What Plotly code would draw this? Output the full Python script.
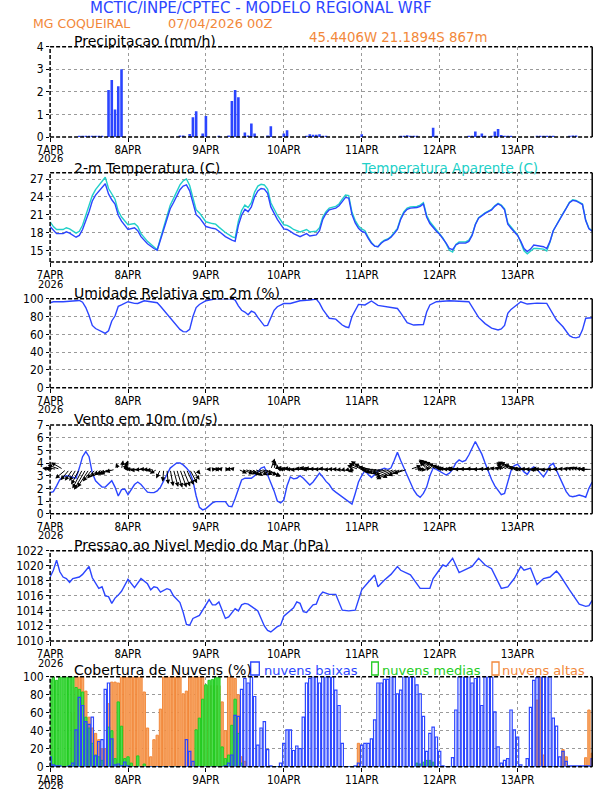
import math
import plotly.graph_objects as go

# ---------------- data ----------------
HOURS = list(range(168))
DAY_TICKS = [0, 24, 48, 72, 96, 120, 144]
DAY_LABELS = ["7APR", "8APR", "9APR", "10APR", "11APR", "12APR", "13APR"]
YEAR_LABEL = "2026"

PRECIP = [0, 0, 0, 0, 0, 0, 0, 0, 0, 0.02,
          0.02, 0.02, 0.02, 0.02, 0.02, 0.02, 0.02, 0, 2.08, 2.52,
          1.22, 2.25, 3.0, 0, 0, 0, 0, 0, 0, 0,
          0, 0, 0, 0, 0, 0, 0, 0, 0, 0,
          0.07, 0.07, 0, 0.13, 0.87, 1.14, 0, 0.16, 0.93, 0,
          0, 0, 0.05, 0, 0, 0.07, 1.6, 2.08, 1.76, 0,
          0.2, 0.07, 0.6, 0.16, 0, 0, 0, 0.07, 0.48, 0,
          0, 0, 0.16, 0.3, 0, 0, 0, 0, 0, 0.05,
          0.12, 0.1, 0.1, 0.12, 0.06, 0.05, 0, 0, 0, 0,
          0, 0, 0, 0, 0, 0, 0.12, 0, 0, 0,
          0, 0, 0, 0, 0, 0, 0, 0, 0.06, 0.06,
          0.08, 0.05, 0.06, 0.05, 0, 0, 0, 0, 0.41, 0.04,
          0, 0, 0, 0, 0, 0, 0, 0, 0, 0.05,
          0.05, 0.24, 0.05, 0.16, 0.05, 0, 0.05, 0.24, 0.35, 0.09,
          0.05, 0.05, 0.03, 0, 0, 0, 0, 0, 0, 0,
          0.02, 0.02, 0.02, 0.02, 0.02, 0.02, 0, 0, 0, 0,
          0.05, 0.07, 0.07, 0, 0, 0, 0, 0]

T_HOURS = [0, 1, 2, 4, 5, 6, 8, 9, 10, 12, 13, 14, 16, 17, 18, 19, 20, 21, 22, 24,
           26, 27, 28, 30, 32, 33, 35, 37, 38, 40, 41, 42, 43, 44, 45, 46, 48, 50, 51, 52,
           54, 56, 57, 58, 59, 60, 61, 62, 63, 64, 65, 66, 67, 68, 70, 72, 73, 74, 75, 77,
           78, 79, 80, 81, 82, 83, 84, 85, 86, 88, 89, 90, 91, 92, 93, 94, 95, 96, 97, 98,
           99, 100, 101, 102, 103, 104, 105, 106, 107, 108, 109, 110, 111, 113, 114, 115, 116, 117, 118, 119,
           120, 121, 122, 123, 124, 125, 126, 128, 129, 130, 131, 132, 134, 136, 137, 138, 139, 140, 141, 142,
           143, 144, 145, 146, 147, 148, 149, 150, 152, 153, 154, 155, 156, 157, 158, 159, 160, 161, 162, 163,
           164, 165, 166, 167]
T2M = [19.0, 18.3, 17.8, 17.8, 18.1, 17.9, 17.2, 17.5, 18.5, 21.5, 23.3, 24.3, 25.7, 26.2, 24.5, 23.5, 22.8, 20.9, 19.9, 18.5,
       18.8, 18.3, 17.3, 16.1, 15.3, 15.0, 18.5, 22.0, 23.0, 25.2, 25.8, 26.0, 25.0, 22.8, 21.0, 20.5, 19.0, 18.7, 18.6, 18.2,
       17.3, 16.7, 16.5, 19.2, 20.9, 21.9, 21.5, 22.3, 24.0, 25.0, 25.4, 25.3, 24.6, 22.3, 20.2, 18.6, 18.5, 18.2, 17.8, 17.3,
       17.6, 17.8, 17.4, 17.5, 17.6, 18.3, 20.2, 21.2, 21.8, 22.1, 22.5, 23.2, 23.9, 23.8, 21.0, 19.6, 18.7, 18.2, 18.0, 17.0,
       16.2, 15.7, 15.6, 16.2, 16.6, 16.8, 17.2, 17.8, 18.5, 20.2, 21.3, 21.9, 22.1, 22.2, 22.4, 22.8, 20.6, 19.5, 18.8, 18.2,
       17.7, 17.0, 16.2, 15.3, 15.1, 15.9, 16.2, 16.2, 16.5, 17.5, 19.3, 20.4, 21.2, 21.8, 22.4, 22.8, 22.5, 21.8, 19.4, 18.7,
       18.0, 17.5, 16.5, 15.3, 14.8, 15.2, 15.9, 15.8, 15.6, 15.3, 16.5, 18.3, 19.2, 20.3, 21.1, 22.0, 23.0, 23.4, 23.3, 23.0,
       22.7, 20.0, 18.6, 18.2]
TAPP = [19.8, 19.0, 18.5, 18.5, 18.8, 18.6, 17.9, 18.2, 19.2, 22.3, 24.2, 25.2, 26.7, 27.3, 25.4, 24.4, 23.6, 21.6, 20.6, 19.3,
        19.5, 19.0, 17.8, 16.5, 15.5, 15.1, 18.9, 22.6, 23.7, 26.0, 26.7, 27.0, 25.9, 23.6, 21.8, 21.3, 19.8, 19.5, 19.4, 18.9,
        18.0, 17.3, 17.1, 19.9, 21.7, 22.6, 22.2, 23.0, 24.8, 25.8, 26.1, 26.0, 25.3, 23.0, 20.9, 19.3, 19.2, 18.9, 18.5, 18.1,
        18.3, 18.5, 18.1, 18.1, 18.2, 18.8, 20.6, 21.5, 22.1, 22.4, 22.8, 23.6, 24.3, 24.2, 21.4, 20.0, 19.1, 18.6, 18.3, 17.2,
        16.3, 15.7, 15.6, 16.3, 16.7, 16.9, 17.3, 18.0, 18.7, 20.4, 21.5, 22.1, 22.3, 22.4, 22.6, 23.0, 20.9, 19.8, 19.1, 18.4,
        17.9, 17.1, 16.1, 15.0, 14.7, 16.0, 16.4, 16.4, 16.7, 17.6, 19.4, 20.5, 21.3, 21.9, 22.5, 22.9, 22.6, 22.0, 19.6, 18.9,
        18.2, 17.6, 16.3, 14.9, 14.4, 14.8, 15.3, 15.3, 15.2, 14.9, 16.4, 18.3, 19.3, 20.4, 21.2, 22.1, 23.1, 23.5, 23.4, 23.1,
        22.8, 20.1, 18.7, 18.3]

RH_HOURS = [0, 1, 4, 8, 9, 10, 11, 12, 13, 14, 15, 16, 17, 18, 19, 20, 21, 22, 24, 26,
            27, 29, 32, 33, 34, 36, 38, 40, 41, 42, 43, 44, 45, 46, 48, 51, 56, 57, 58, 59,
            60, 61, 62, 63, 64, 65, 66, 67, 68, 69, 70, 72, 74, 77, 80, 82, 83, 84, 85, 86,
            88, 89, 90, 91, 92, 93, 94, 95, 97, 99, 101, 104, 107, 108, 109, 110, 112, 115, 116, 117,
            119, 123, 129, 130, 131, 132, 134, 136, 138, 139, 140, 141, 142, 143, 145, 147, 150, 153, 154, 155,
            156, 158, 160, 161, 162, 163, 164, 165, 167]
RH = [95.5, 96.5, 96.6, 97.7, 98.0, 96.0, 90.0, 81.0, 70.0, 66.5, 64.5, 62.5, 61.0, 64.0, 75.0, 80.5, 91.5, 93.0, 96.6, 94.8,
      94.6, 97.7, 96.6, 95.5, 91.5, 83.0, 74.0, 65.5, 63.0, 62.7, 65.5, 80.0, 90.0, 93.5, 97.7, 100.0, 100.0, 98.5, 92.0, 87.0,
      85.0, 82.0, 86.0, 84.5, 79.0, 74.0, 69.5, 70.0, 78.0, 87.0, 91.0, 94.6, 94.6, 97.7, 98.5, 99.6, 95.0, 88.0, 83.0, 78.0,
      77.0, 74.0, 70.4, 68.5, 67.4, 80.0, 87.0, 93.6, 93.0, 97.4, 92.5, 91.0, 89.0, 84.0, 78.0, 73.0, 70.4, 71.0, 85.0, 93.0,
      96.6, 97.7, 96.6, 91.0, 85.0, 79.0, 72.0, 67.0, 64.8, 66.0, 70.0, 83.5, 88.0, 91.0, 96.6, 94.0, 95.0, 94.8, 88.0, 82.0,
      76.0, 68.5, 58.5, 56.5, 56.0, 57.0, 65.0, 78.0, 78.6]

WIND_SPEED = [1.66, 1.74, 2.2, 2.7, 2.9, 3.0, 2.95, 2.9, 2.8, 3.6,
              4.5, 4.9, 4.5, 3.2, 2.6, 2.35, 2.1, 2.1, 2.35, 2.6,
              2.1, 1.4, 1.9, 1.95, 1.5, 1.9, 2.3, 2.5, 2.3, 2.0,
              1.7, 1.66, 1.66, 1.8, 2.1, 2.6, 3.1, 3.6, 3.8, 4.0,
              4.0, 3.85, 3.6, 3.3, 2.6, 1.4, 0.5, 0.3, 0.4, 0.65,
              0.85, 0.95, 0.95, 0.95, 0.95, 0.6, 0.55, 1.2, 2.0, 2.66,
              2.8, 2.8, 2.8, 3.0, 3.3, 3.6, 3.7, 3.1, 2.4, 1.8,
              1.0, 0.85, 1.08, 2.2, 2.9, 2.75, 2.8, 3.0, 2.8, 2.5,
              2.26, 2.5, 2.9, 3.2, 2.9, 2.55, 2.3, 1.9, 1.7, 1.5,
              1.3, 1.1, 0.9, 0.76, 1.6, 2.5, 3.0, 3.4, 3.1, 2.85,
              3.1, 3.4, 3.5, 3.58, 3.5, 3.6, 4.2, 4.84, 4.2, 3.6,
              3.05, 2.4, 1.87, 1.5, 1.29, 1.6, 2.1, 3.0, 3.6, 3.5,
              3.37, 3.2, 3.05, 3.2, 3.5, 4.0, 4.24, 4.1, 4.2, 4.63,
              5.2, 5.7, 5.2, 4.7, 4.0, 3.3, 2.7, 2.2, 1.8, 1.5,
              1.6, 2.6, 3.4, 3.8, 3.9, 3.6, 3.3, 3.1, 3.5, 3.7,
              3.5, 3.2, 2.9, 3.3, 3.8, 3.97, 3.4, 2.8, 2.2, 1.74,
              1.4, 1.34, 1.4, 1.47, 1.4, 1.3, 2.0, 2.5]
# direction the wind blows FROM (degrees, meteorological)
WIND_DIR = [100, 95, 100, 110, 120, 50, 40, 35, 30, 28,
            28, 30, 33, 38, 42, 48, 52, 58, 62, 68,
            75, 160, 190, 200, 150, 110, 95, 90, 85, 88,
            92, 88, 80, 60, 25, 5, 355, 350, 345, 343,
            340, 338, 335, 332, 328, 320, 300, 270, 270, 90,
            260, 270, 90, 100, 270, 80, 90, 100, 295, 292,
            290, 295, 298, 293, 290, 288, 292, 300, 200, 190,
            180, 110, 95, 100, 95, 92, 95, 90, 88, 95,
            100, 92, 90, 95, 92, 90, 95, 88, 92, 90,
            85, 80, 75, 70, 70, 110, 115, 120, 110, 100,
            90, 85, 80, 78, 75, 70, 66, 65, 65, 68,
            72, 250, 265, 270, 275, 260, 140, 128, 125, 122,
            118, 112, 106, 100, 95, 92, 92, 90, 92, 90,
            91, 92, 90, 91, 92, 90, 93, 95, 100, 105,
            110, 113, 115, 115, 112, 105, 95, 92, 90, 90,
            92, 90, 88, 90, 92, 90, 88, 90, 92, 95,
            100, 105, 108, 105, 100, 95, 90, 90]

P_HOURS = [0, 1, 2, 3, 4, 5, 6, 7, 9, 10, 12, 13, 15, 16, 17, 18, 19, 20, 21, 22,
           24, 26, 28, 30, 31, 32, 33, 34, 36, 37, 38, 40, 41, 42, 43, 44, 46, 47, 49, 50,
           51, 52, 54, 55, 57, 58, 59, 60, 61, 62, 64, 65, 66, 67, 68, 70, 71, 72, 74, 75,
           76, 77, 78, 79, 81, 82, 83, 84, 86, 88, 90, 92, 94, 96, 98, 100, 101, 103, 105, 107,
           108, 111, 114, 117, 118, 121, 122, 124, 126, 129, 130, 132, 134, 136, 139, 141, 143, 145, 146, 148,
           149, 150, 152, 154, 156, 157, 160, 163, 165, 166, 167]
PMSL = [1018.5, 1019.4, 1020.75, 1019.2, 1018.5, 1018.3, 1017.8, 1018.3, 1018.5, 1018.85,
        1019.9, 1018.4, 1017.0, 1017.2, 1016.0, 1015.9, 1015.0, 1015.7, 1016.1, 1016.6,
        1018.2, 1017.1, 1018.3, 1017.6, 1016.8, 1017.2, 1017.1, 1016.5, 1016.95, 1016.8,
        1016.0, 1015.1, 1013.8, 1012.2, 1012.1, 1013.0, 1013.4, 1014.1, 1015.5, 1014.8,
        1014.8, 1015.2, 1013.0, 1013.2, 1014.3, 1014.0, 1014.8, 1015.0, 1014.9, 1014.6,
        1014.0, 1013.0, 1012.0, 1011.4, 1011.2, 1011.9, 1012.1, 1013.3, 1014.1, 1014.4,
        1015.2, 1015.0, 1013.9, 1013.8, 1014.8, 1014.9, 1016.0, 1016.5, 1016.2, 1016.2,
        1014.1, 1014.0, 1014.1, 1016.8, 1017.8, 1018.76, 1017.2, 1018.1, 1018.85, 1019.9,
        1019.4, 1018.8, 1017.0, 1017.0, 1018.3, 1020.1, 1019.9, 1021.0, 1019.1, 1019.7,
        1019.9, 1021.0, 1020.1, 1019.6, 1017.0, 1017.2, 1018.3, 1019.9, 1019.4, 1019.7,
        1018.5, 1017.5, 1018.3, 1018.5, 1019.3, 1018.8, 1016.8, 1014.9, 1014.6, 1014.7,
        1015.4]

CLOUD_LOW = [11, 2, 1, 1, 0, 0, 1, 4, 41, 77,
             68, 50, 47, 55, 12, 28, 30, 86, 93, 31,
             2, 3, 1, 5, 1, 0, 0, 0, 0, 0,
             0, 0, 0, 0, 0, 0, 0, 0, 0, 0,
             0, 0, 30, 17, 6, 0, 0, 0, 0, 0,
             0, 0, 0, 0, 1, 4, 13, 57, 56, 86,
             98, 93, 100, 78, 24, 43, 50, 19, 1, 0,
             0, 4, 26, 41, 41, 18, 23, 20, 55, 93,
             98, 100, 100, 93, 100, 100, 100, 100, 85, 68,
             26, 0, 0, 0, 1, 4, 24, 26, 26, 31,
             52, 93, 93, 97, 97, 100, 100, 81, 85, 100,
             100, 100, 100, 91, 81, 56, 17, 37, 44, 33,
             17, 1, 0, 0, 10, 63, 100, 100, 100, 100,
             93, 98, 100, 68, 100, 100, 100, 61, 22, 4,
             7, 9, 63, 41, 33, 2, 0, 9, 66, 96,
             99, 100, 100, 100, 100, 54, 45, 11, 17, 6,
             1, 1, 1, 1, 1, 1, 1, 9]
CLOUD_MID = [97, 100, 96, 100, 100, 100, 100, 100, 88, 86,
             83, 55, 43, 26, 13, 11, 7, 0, 44, 40,
             9, 72, 45, 9, 11, 4, 0, 12, 0, 3,
             0, 0, 0, 0, 0, 0, 0, 0, 0, 0,
             0, 0, 0, 0, 0, 41, 54, 75, 91, 96,
             97, 100, 100, 22, 9, 13, 46, 75, 37, 4,
             0, 0, 0, 0, 0, 0, 0, 0, 0, 0,
             0, 0, 0, 0, 0, 0, 0, 0, 0, 0,
             0, 0, 0, 0, 0, 0, 0, 0, 0, 0,
             0, 0, 0, 0, 0, 0, 0, 0, 0, 0,
             0, 0, 0, 0, 0, 0, 0, 0, 0, 0,
             0, 0, 0, 4, 3, 5, 7, 7, 5, 0,
             0, 0, 0, 0, 0, 0, 0, 0, 0, 0,
             0, 0, 0, 0, 0, 0, 0, 0, 0, 0,
             0, 0, 0, 0, 0, 0, 0, 0, 0, 0,
             0, 0, 0, 0, 0, 0, 0, 0, 0, 0,
             0, 0, 0, 0, 0, 0, 0, 0]
CLOUD_HIGH = [0, 0, 0, 0, 0, 0, 0, 60, 100, 100,
              100, 84, 55, 43, 37, 30, 20, 20, 70, 94,
              94, 93, 100, 100, 100, 100, 100, 100, 100, 83,
              43, 11, 30, 35, 64, 100, 100, 100, 100, 100,
              100, 81, 84, 100, 100, 100, 100, 100, 90, 90,
              90, 90, 90, 72, 40, 100, 100, 98, 80, 11,
              6, 0, 0, 0, 0, 0, 0, 0, 0, 0,
              0, 0, 0, 0, 0, 0, 0, 0, 0, 0,
              0, 0, 0, 0, 0, 0, 0, 0, 0, 0,
              0, 0, 0, 0, 0, 26, 0, 0, 0, 0,
              0, 0, 0, 0, 0, 0, 0, 0, 0, 0,
              0, 0, 0, 0, 0, 0, 0, 0, 0, 0,
              0, 0, 0, 0, 0, 0, 0, 0, 0, 0,
              0, 0, 0, 0, 0, 0, 0, 0, 0, 0,
              0, 0, 0, 0, 0, 0, 0, 0, 0, 0,
              74, 100, 13, 0, 0, 0, 0, 0, 19, 11,
              0, 0, 0, 0, 0, 10, 63, 15]

# ---------------- style / layout ----------------
W, H = 612, 792
X0, X1 = 50.1, 592.2
PANELS = [(46.7, 137.0), (172.7, 262.0), (298.7, 387.7), (425.0, 513.7), (550.7, 641.0), (676.7, 766.7)]
YRANGES = [[0, 4], [13.03, 28.06], [0, 100], [0, 7], [1010, 1022], [0, 100]]
YTICKS = [[0, 1, 2, 3, 4], [15, 18, 21, 24, 27], [0, 20, 40, 60, 80, 100],
          [0, 1, 2, 3, 4, 5, 6, 7], [1010, 1012, 1014, 1016, 1018, 1020, 1022],
          [0, 20, 40, 60, 80, 100]]
BLUE = "#2b45ff"
CYAN = "#22d0c8"
ORANGE = "#f2883a"
GREEN = "#22cc22"
TICKFAMILY = "Liberation Sans Narrow, DejaVu Sans Condensed, Liberation Sans, sans-serif"
TICKFONT = dict(family=TICKFAMILY, size=12, color="black")
XTICKFONT = dict(family=TICKFAMILY, size=11.5, color="black")
YEARFONT = dict(family=TICKFAMILY, size=11, color="black")
TXTFONT = "DejaVu Sans, Liberation Sans, sans-serif"
VEC_BASE = 3.5
PX_PER_MS = 4.8


def sfx(i):
    return "" if i == 1 else str(i)


fig = go.Figure()
fig.add_trace(go.Bar(x=HOURS, y=PRECIP, width=0.8, marker=dict(color=BLUE, line=dict(width=0)),
                     xaxis="x", yaxis="y"))
fig.add_trace(go.Scatter(x=T_HOURS, y=TAPP, mode="lines", line=dict(color=CYAN, width=1.4),
                         xaxis="x2", yaxis="y2"))
fig.add_trace(go.Scatter(x=T_HOURS, y=T2M, mode="lines", line=dict(color=BLUE, width=1.4),
                         xaxis="x2", yaxis="y2"))
fig.add_trace(go.Scatter(x=RH_HOURS, y=RH, mode="lines", line=dict(color=BLUE, width=1.4),
                         xaxis="x3", yaxis="y3"))
fig.add_trace(go.Scatter(x=HOURS, y=WIND_SPEED, mode="lines", line=dict(color=BLUE, width=1.4),
                         xaxis="x4", yaxis="y4"))
fig.add_trace(go.Scatter(x=P_HOURS, y=PMSL, mode="lines", line=dict(color=BLUE, width=1.4),
                         xaxis="x5", yaxis="y5"))
fig.add_trace(go.Bar(x=HOURS, y=CLOUD_HIGH, width=0.72,
                     marker=dict(color="#f7a868", line=dict(color=ORANGE, width=1)),
                     xaxis="x6", yaxis="y6"))
fig.add_trace(go.Bar(x=HOURS, y=CLOUD_MID, width=0.72,
                     marker=dict(color="#4fdc4f", line=dict(color=GREEN, width=1)),
                     xaxis="x6", yaxis="y6"))
fig.add_trace(go.Bar(x=HOURS, y=CLOUD_LOW, width=0.72,
                     marker=dict(color="rgba(0,0,0,0)", line=dict(color=BLUE, width=1.2)),
                     xaxis="x6", yaxis="y6"))

layout = dict(width=W, height=H, margin=dict(l=0, r=0, t=0, b=0), template="none",
              paper_bgcolor="white", plot_bgcolor="white", showlegend=False, barmode="overlay")
shapes = []
annotations = []
for i in range(1, 7):
    top, bot = PANELS[i - 1]
    layout["xaxis" + sfx(i)] = dict(
        domain=[X0 / W, X1 / W], range=[0, 167], anchor="y" + sfx(i),
        tickmode="array", tickvals=DAY_TICKS, ticktext=DAY_LABELS,
        ticks="outside", ticklen=4, tickwidth=1, tickcolor="black", ticklabelstandoff=-2,
        showgrid=True, gridcolor="#9a9a9a", griddash="dot", gridwidth=1,
        zeroline=False, showline=False, tickfont=XTICKFONT, fixedrange=True)
    layout["yaxis" + sfx(i)] = dict(
        domain=[1 - bot / H, 1 - top / H], range=YRANGES[i - 1], anchor="x" + sfx(i),
        tickmode="array", tickvals=YTICKS[i - 1],
        ticks="outside", ticklen=3, tickwidth=1, tickcolor="black",
        showgrid=True, gridcolor="#9a9a9a", griddash="dot", gridwidth=1,
        zeroline=False, showline=False, tickfont=TICKFONT, fixedrange=True)
    xr, yr = "x%s domain" % sfx(i), "y%s domain" % sfx(i)
    dash = dict(color="black", width=1.5, dash="4px,2px")
    shapes += [
        dict(type="line", xref=xr, yref=yr, x0=0, x1=0, y0=0, y1=1, line=dash, layer="above"),
        dict(type="line", xref=xr, yref=yr, x0=0, x1=1, y0=1, y1=1, line=dash, layer="above"),
        dict(type="line", xref=xr, yref=yr, x0=0, x1=1, y0=0, y1=0, line=dash, layer="above"),
        dict(type="line", xref=xr, yref=yr, x0=1, x1=1, y0=0, y1=1,
             line=dict(color="black", width=1.5), layer="above"),
    ]
    # year label under the first day tick
    year_y = min(bot + 22.0, 785.5)
    annotations.append(dict(x=X0 / W, y=1 - year_y / H, xref="paper", yref="paper",
                            text=YEAR_LABEL, showarrow=False, xanchor="center", yanchor="middle",
                            font=YEARFONT, borderpad=0))

# legend boxes for cloud panel (paper pixels)
for (bx0, bx1, col) in [(250.7, 259.3, BLUE), (371.7, 378.3, GREEN), (492.0, 499.0, ORANGE)]:
    shapes.append(dict(type="rect", xref="paper", yref="paper", x0=bx0 / W, x1=bx1 / W,
                       y0=1 - 675 / H, y1=1 - 662 / H, line=dict(color=col, width=1.3)))


def txt(px, py, text, color, size, xanchor="left"):
    annotations.append(dict(x=px / W, y=1 - py / H, xref="paper", yref="paper", text=text,
                            showarrow=False, xanchor=xanchor, yanchor="middle",
                            font=dict(family=TXTFONT, size=size, color=color)))


txt(261, 8, "MCTIC/INPE/CPTEC - MODELO REGIONAL WRF", BLUE, 15, "center")
txt(31, 23, "MG COQUEIRAL", ORANGE, 12.5)
txt(166, 23, "07/04/2026 00Z", ORANGE, 13)
txt(307, 37.5, "45.4406W 21.1894S 867m", ORANGE, 13.3)
txt(72, 41, "Precipitacao (mm/h)", "black", 14)
txt(72, 167.5, "2-m Temperatura (C)", "black", 14)
txt(359, 167.5, "Temperatura Aparente (C)", CYAN, 13.5)
txt(72, 293, "Umidade Relativa em 2m (%)", "black", 14)
txt(72, 419, "Vento em 10m (m/s)", "black", 14)
txt(72, 545, "Pressao ao Nivel Medio do Mar (hPa)", "black", 14)
txt(72, 670, "Cobertura de Nuvens (%)", "black", 14)
txt(262, 670, "nuvens baixas", BLUE, 13)
txt(380, 670, "nuvens medias", GREEN, 13)
txt(500, 670, "nuvens altas", ORANGE, 13)

# wind vectors
px_per_hour = (X1 - X0) / 167.0
px_per_unit = (PANELS[3][1] - PANELS[3][0]) / 7.0
for h, s, d in zip(HOURS, WIND_SPEED, WIND_DIR):
    u = -s * math.sin(math.radians(d))
    v = -s * math.cos(math.radians(d))
    dx = u * PX_PER_MS / px_per_hour
    dy = v * PX_PER_MS / px_per_unit
    annotations.append(dict(x=h + dx, y=VEC_BASE + dy, ax=h, ay=VEC_BASE,
                            xref="x4", yref="y4", axref="x4", ayref="y4", text="",
                            showarrow=True, arrowhead=2, arrowsize=0.9, arrowwidth=1,
                            arrowcolor="black", standoff=0))

layout["shapes"] = shapes
layout["annotations"] = annotations
fig.update_layout(**layout)

fig.write_html("out.html", config={"displayModeBar": False},
               post_script="document.body.style.margin='0';")
